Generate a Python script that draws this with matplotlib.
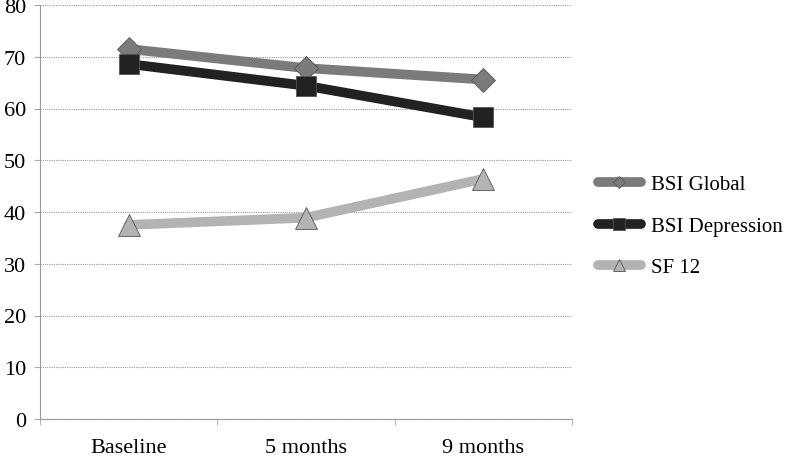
import matplotlib
matplotlib.use("Agg")
import matplotlib.pyplot as plt
import numpy as np

categories = ["Baseline", "5 months", "9 months"]
bsi_global = [71.5, 67.8, 65.6]
bsi_depression = [68.6, 64.4, 58.3]
sf12 = [37.5, 38.9, 46.4]

series = [
    ("BSI Global", bsi_global, "#7b7b7b", "D", 12),
    ("BSI Depression", bsi_depression, "#222222", "s", 15),
    ("SF 12", sf12, "#b3b3b3", "^", 16),
]

plt.rcParams["font.family"] = ["Liberation Serif", "DejaVu Serif"]

fig = plt.figure(figsize=(7.92, 4.64), dpi=100)
ax = fig.add_axes([40 / 792, 44 / 464, 532 / 792, 414 / 464])

x = np.arange(len(categories))
for name, vals, color, marker, ms in series:
    ax.plot(x, vals, color=color, lw=7, marker=marker, ms=ms,
            markerfacecolor=color, markeredgecolor="#555555", markeredgewidth=0.6,
            label=name, solid_capstyle="round", zorder=3)

ax.set_xlim(-0.5, 2.5)
ax.set_ylim(0, 80)
ax.set_yticks(np.arange(0, 81, 10))
ax.set_xticks(x)
ax.set_xticklabels(categories)
ax.set_xticks([-0.5, 0.5, 1.5, 2.5], minor=True)
ax.tick_params(axis="x", which="major", length=0, pad=14, labelsize=16)
ax.tick_params(axis="x", which="minor", length=4, color="#aaaaaa")
ax.tick_params(axis="y", length=4, color="#aaaaaa", labelsize=16, pad=6)

ax.grid(axis="y", color="#9a9a9a", linestyle=(0, (1, 1)), linewidth=0.8, zorder=0)
for side in ["top", "right"]:
    ax.spines[side].set_visible(False)
for side in ["left", "bottom"]:
    ax.spines[side].set_color("#9a9a9a")
    ax.spines[side].set_linestyle((0, (1, 1)))
    ax.spines[side].set_linewidth(0.8)

ax.legend(loc="center left", bbox_to_anchor=(1.048, 0.466), frameon=False,
          fontsize=15, handlelength=2.1, handletextpad=0.45, labelspacing=1.05,
          markerscale=0.55, borderaxespad=0, borderpad=0)

fig.savefig("out.png")
